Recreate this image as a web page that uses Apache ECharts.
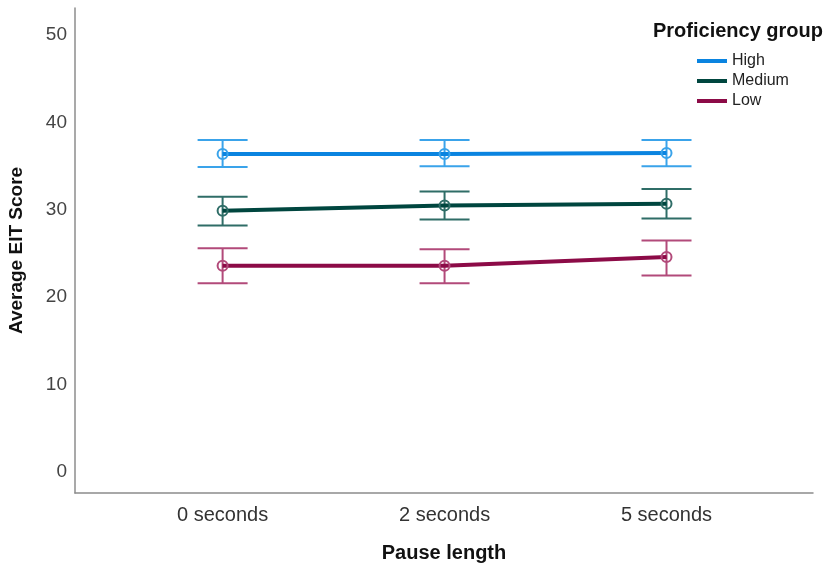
<!DOCTYPE html>
<html>
<head>
<meta charset="utf-8">
<script src="https://cdn.jsdelivr.net/npm/echarts@6/dist/echarts.min.js"></script>
<style>html,body{margin:0;padding:0;background:#fff}#c{width:831px;height:569px}</style>
</head>
<body>
<div id="c"></div>
<script>
var categories = ['0 seconds', '2 seconds', '5 seconds'];
var groups = ['High', 'Medium', 'Low'];
var highMean = [36.4, 36.4, 36.5];
var highLower = [34.9, 35.0, 35.0];
var highUpper = [38.0, 38.0, 38.0];
var medMean = [29.9, 30.5, 30.7];
var medLower = [28.2, 28.9, 29.0];
var medUpper = [31.5, 32.1, 32.4];
var lowMean = [23.6, 23.6, 24.6];
var lowLower = [21.6, 21.6, 22.5];
var lowUpper = [25.6, 25.5, 26.5];
var yTicks = [0, 10, 20, 30, 40, 50];

var lineColors = ['#0a84e0', '#00463f', '#8c0b47'];
var barColors = ['#3aa3ea', '#2f6d67', '#b24a7a'];
var means = [highMean, medMean, lowMean];
var lowers = [highLower, medLower, lowLower];
var uppers = [highUpper, medUpper, lowUpper];

var series = [];
groups.forEach(function (g, gi) {
  series.push({
    name: g,
    type: 'custom',
    renderItem: function (params, api) {
      var x = api.value(0);
      var lo = api.coord([x, api.value(1)]);
      var hi = api.coord([x, api.value(2)]);
      var hw = 25;
      var st = { stroke: barColors[gi], lineWidth: 2 };
      return {
        type: 'group',
        children: [
          { type: 'line', shape: { x1: lo[0], y1: lo[1], x2: hi[0], y2: hi[1] }, style: st },
          { type: 'line', shape: { x1: lo[0] - hw, y1: lo[1], x2: lo[0] + hw, y2: lo[1] }, style: st },
          { type: 'line', shape: { x1: hi[0] - hw, y1: hi[1], x2: hi[0] + hw, y2: hi[1] }, style: st }
        ]
      };
    },
    data: categories.map(function (c, i) { return [i, lowers[gi][i], uppers[gi][i]]; }),
    z: 1,
    silent: true
  });
  series.push({
    name: g,
    type: 'line',
    data: categories.map(function (c, i) { return [i, means[gi][i]]; }),
    lineStyle: { color: lineColors[gi], width: 4 },
    itemStyle: { color: 'rgba(0,0,0,0)', borderColor: barColors[gi], borderWidth: 2 },
    symbol: 'circle',
    symbolSize: 10,
    z: 3
  });
});

var chart = echarts.init(document.getElementById('c'));
chart.setOption({
  animation: false,
  backgroundColor: '#ffffff',
  textStyle: { fontFamily: 'Liberation Sans' },
  title: {
    text: 'Proficiency group',
    right: 3,
    top: 16,
    textStyle: { fontSize: 20, fontWeight: 'bold', color: '#111', fontFamily: 'Liberation Sans' }
  },
  legend: {
    orient: 'vertical',
    left: 692,
    top: 48,
    itemWidth: 30,
    itemHeight: 4,
    itemGap: 4,
    icon: 'rect',
    data: groups.map(function (g, gi) { return { name: g, itemStyle: { color: lineColors[gi] } }; }),
    textStyle: { fontSize: 16, color: '#222', fontFamily: 'Liberation Sans' }
  },
  grid: { left: 75, right: 18, top: 8, bottom: 76, containLabel: false, outerBoundsMode: 'none' },
  xAxis: {
    type: 'value',
    min: -0.665,
    max: 2.66,
    name: 'Pause length',
    nameLocation: 'middle',
    nameGap: 50,
    nameTextStyle: { fontSize: 20, fontWeight: 'bold', color: '#111' },
    axisLine: { show: true, onZero: false, lineStyle: { color: '#8c8c8c', width: 1.5 } },
    axisTick: { show: false },
    splitLine: { show: false },
    axisLabel: {
      customValues: [0, 1, 2],
      formatter: function (v) { return categories[Math.round(v)]; },
      fontSize: 20, color: '#333', margin: 12
    }
  },
  yAxis: {
    type: 'value',
    min: -2.4,
    max: 53.1,
    name: 'Average EIT Score',
    nameLocation: 'middle',
    nameGap: 49,
    nameTextStyle: { fontSize: 19, fontWeight: 'bold', color: '#111' },
    axisLine: { show: true, onZero: false, lineStyle: { color: '#8c8c8c', width: 1.5 } },
    axisTick: { show: false },
    splitLine: { show: false },
    axisLabel: {
      customValues: yTicks,
      fontSize: 19, color: '#444', margin: 8
    }
  },
  series: series
});
</script>
</body>
</html>
